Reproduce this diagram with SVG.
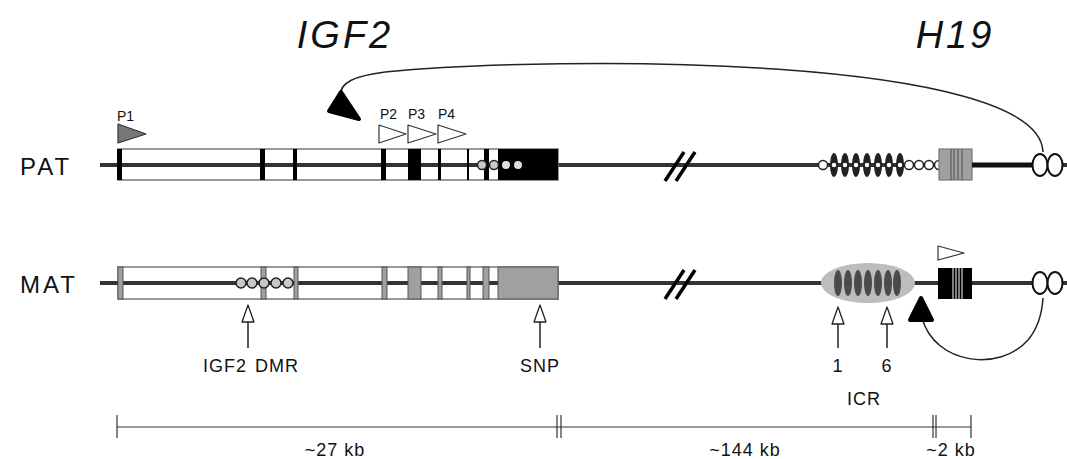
<svg xmlns="http://www.w3.org/2000/svg" width="1067" height="459" viewBox="0 0 1067 459">
  <style>
    .txt { font-family: "Liberation Sans", Arial, sans-serif; fill: #111; }
    .title { font-size: 38px; font-style: italic; letter-spacing: 3px; }
    .allele { font-size: 24px; letter-spacing: 3px; }
    .prom { font-size: 14px; }
    .lbl { font-size: 18px; letter-spacing: 1px; }
    .chrom { stroke: #333; stroke-width: 4; fill: none; }
    .gene { fill: #fff; stroke: #777; stroke-width: 1.5; }
    .exonB { fill: #000; }
    .exonG { fill: #a0a0a0; stroke: #555; stroke-width: 1; }
    .cpgG { fill: #c8c8c8; stroke: #222; stroke-width: 1.5; }
    .cpgW { fill: #fff; stroke: #222; stroke-width: 1.5; }
    .enh { fill: #fff; stroke: #111; stroke-width: 2; }
    .brk { stroke: #000; stroke-width: 3.5; }
    .scale { stroke: #333; stroke-width: 1.2; fill: none; }
    .conn { stroke: #222; stroke-width: 1.5; fill: none; }
    .openArrow { fill: #fff; stroke: #222; stroke-width: 1.3; stroke-linejoin: round; }
  </style>

  <!-- gene titles -->
  <text class="txt title" x="345" y="48" text-anchor="middle">IGF2</text>
  <text class="txt title" x="955" y="48" text-anchor="middle">H19</text>

  <!-- paternal allele -->
  <g id="pat">
    <text class="txt allele" x="20" y="175">PAT</text>
    <line class="chrom" x1="100" y1="165" x2="1067" y2="165"/>
    <rect class="gene" x="118" y="149" width="440" height="31"/>
    <line class="chrom" x1="100" y1="165" x2="558" y2="165"/>
    <!-- IGF2 exons -->
    <rect class="exonB" x="117" y="149" width="5" height="31"/>
    <rect class="exonB" x="260" y="149" width="5" height="31"/>
    <rect class="exonB" x="293" y="149" width="4" height="31"/>
    <rect class="exonB" x="381" y="149" width="5" height="31"/>
    <rect class="exonB" x="408" y="149" width="13" height="31"/>
    <rect class="exonB" x="438" y="149" width="3" height="31"/>
    <rect class="exonB" x="467" y="149" width="2" height="31"/>
    <rect class="exonB" x="484" y="149" width="5" height="31"/>
    <rect class="exonB" x="498" y="149" width="60" height="31"/>
    <circle class="cpgG" cx="482" cy="165" r="4.5"/>
    <circle class="cpgG" cx="494" cy="165" r="4.5"/>
    <circle fill="#ddd" cx="506" cy="165" r="4"/>
    <circle fill="#ddd" cx="518" cy="165" r="4"/>
    <!-- promoters -->
    <text class="txt prom" x="117" y="121">P1</text>
    <polygon points="118,124 146,134 118,143" fill="#777" stroke="#333" stroke-width="1.2" stroke-linejoin="round"/>
    <text class="txt prom" x="380" y="119">P2</text>
    <text class="txt prom" x="408" y="119">P3</text>
    <text class="txt prom" x="438" y="119">P4</text>
    <polygon points="379,125 406,134 379,143" fill="#fff" stroke="#333" stroke-width="1.2" stroke-linejoin="round"/>
    <polygon points="408,125 436,134 408,143" fill="#fff" stroke="#333" stroke-width="1.2" stroke-linejoin="round"/>
    <polygon points="438,125 466,134 438,143" fill="#fff" stroke="#333" stroke-width="1.2" stroke-linejoin="round"/>
    <!-- chromosome break -->
    <line class="brk" x1="665" y1="181" x2="684" y2="152"/>
    <line class="brk" x1="676" y1="181" x2="695" y2="152"/>
    <!-- ICR, methylated -->
    <g fill="#222">
      <ellipse cx="834" cy="165" rx="4" ry="12"/>
      <ellipse cx="845" cy="165" rx="4" ry="12"/>
      <ellipse cx="856" cy="165" rx="4" ry="12"/>
      <ellipse cx="867" cy="165" rx="4" ry="12"/>
      <ellipse cx="878" cy="165" rx="4" ry="12"/>
      <ellipse cx="889" cy="165" rx="4" ry="12"/>
      <ellipse cx="900" cy="165" rx="4" ry="12"/>
    </g>
    <g>
      <circle class="cpgW" cx="823" cy="165" r="4.5"/>
      <circle class="cpgW" cx="834" cy="165" r="3"/>
      <circle class="cpgW" cx="845" cy="165" r="3"/>
      <circle class="cpgW" cx="856" cy="165" r="3"/>
      <circle class="cpgW" cx="867" cy="165" r="3"/>
      <circle class="cpgW" cx="878" cy="165" r="3"/>
      <circle class="cpgW" cx="889" cy="165" r="3"/>
      <circle class="cpgW" cx="900" cy="165" r="3"/>
      <circle class="cpgW" cx="909" cy="165" r="4.5"/>
      <circle class="cpgW" cx="919" cy="165" r="4.5"/>
      <circle class="cpgW" cx="929" cy="165" r="4.5"/>
      <circle class="cpgW" cx="939" cy="165" r="4.5"/>
    </g>
    <!-- H19 silenced -->
    <rect x="939" y="149" width="33" height="31" fill="#a0a0a0" stroke="#777" stroke-width="1.2"/>
    <g stroke="#6a6a6a" stroke-width="1.5">
      <line x1="951" y1="149" x2="951" y2="180"/>
      <line x1="954" y1="149" x2="954" y2="180"/>
      <line x1="958" y1="149" x2="958" y2="180"/>
      <line x1="962" y1="149" x2="962" y2="180"/>
    </g>
    <line x1="972" y1="165" x2="1032" y2="165" stroke="#111" stroke-width="5"/>
    <!-- enhancers -->
    <ellipse class="enh" cx="1040" cy="165" rx="7.5" ry="11"/>
    <ellipse class="enh" cx="1055" cy="165" rx="7.5" ry="11"/>
  </g>

  <!-- maternal allele -->
  <g id="mat">
    <text class="txt allele" x="20" y="293">MAT</text>
    <line class="chrom" x1="100" y1="283" x2="1067" y2="283"/>
    <rect class="gene" x="118" y="267" width="440" height="32"/>
    <line class="chrom" x1="100" y1="283" x2="558" y2="283"/>
    <!-- IGF2 exons (silent) -->
    <rect class="exonG" x="118" y="267" width="5" height="32"/>
    <rect class="exonG" x="261" y="267" width="5" height="32"/>
    <rect class="exonG" x="294" y="267" width="4" height="32"/>
    <rect class="exonG" x="382" y="267" width="5" height="32"/>
    <rect class="exonG" x="408" y="267" width="13" height="32"/>
    <rect class="exonG" x="438" y="267" width="4" height="32"/>
    <rect class="exonG" x="467" y="267" width="3" height="32"/>
    <rect class="exonG" x="483" y="267" width="6" height="32"/>
    <rect class="exonG" x="498" y="267" width="60" height="32"/>
    <!-- IGF2 DMR -->
    <circle class="cpgG" cx="241" cy="283" r="5"/>
    <circle class="cpgG" cx="252" cy="283" r="5"/>
    <circle class="cpgG" cx="264" cy="283" r="5"/>
    <circle class="cpgG" cx="276" cy="283" r="5"/>
    <circle class="cpgG" cx="288" cy="283" r="5"/>
    <!-- chromosome break -->
    <line class="brk" x1="665" y1="299" x2="684" y2="270"/>
    <line class="brk" x1="676" y1="299" x2="695" y2="270"/>
    <!-- ICR bound by CTCF -->
    <ellipse cx="868" cy="283" rx="47" ry="20" fill="#bdbdbd"/>
    <g fill="#4a4a4a">
      <ellipse cx="838" cy="283" rx="4" ry="13"/>
      <ellipse cx="848" cy="283" rx="4" ry="13"/>
      <ellipse cx="858" cy="283" rx="4" ry="13"/>
      <ellipse cx="868" cy="283" rx="4" ry="13"/>
      <ellipse cx="878" cy="283" rx="4" ry="13"/>
      <ellipse cx="888" cy="283" rx="4" ry="13"/>
      <ellipse cx="897" cy="283" rx="4" ry="13"/>
    </g>
    <!-- H19 active -->
    <polygon points="938,246 964,253 938,260" fill="#fff" stroke="#333" stroke-width="1.2" stroke-linejoin="round"/>
    <rect x="938" y="268" width="34" height="31" fill="#000"/>
    <g stroke="#fff" stroke-width="1">
      <line x1="953" y1="268" x2="953" y2="299"/>
      <line x1="956" y1="268" x2="956" y2="299"/>
      <line x1="959" y1="268" x2="959" y2="299"/>
      <line x1="962" y1="268" x2="962" y2="299"/>
    </g>
    <!-- enhancers -->
    <ellipse class="enh" cx="1040" cy="283" rx="7.5" ry="11"/>
    <ellipse class="enh" cx="1055" cy="283" rx="7.5" ry="11"/>
  </g>

  <!-- enhancer-promoter loops -->
  <g id="connectors">
    <path class="conn" d="M1043,152 C1040,55 560,55 385,72 C355,76 340,82 340,96"/>
    <polygon points="341,92 359,119 329,111" fill="#000" stroke="#000" stroke-width="4" stroke-linejoin="round"/>
    <path class="conn" d="M922,318 C935,365 1000,372 1028,340 C1038,328 1042,314 1043,298"/>
    <polygon points="921,298 932,320 910,320" fill="#000" stroke="#000" stroke-width="4" stroke-linejoin="round"/>
  </g>

  <!-- site markers -->
  <g id="markers">
    <g id="m-dmr">
      <line class="conn" x1="248" y1="320" x2="248" y2="348" stroke-width="1.3"/>
      <polygon class="openArrow" points="248,305 254,322 242,322"/>
      <text class="txt lbl" x="251" y="372" text-anchor="middle" word-spacing="2">IGF2 DMR</text>
    </g>
    <g id="m-snp">
      <line class="conn" x1="540" y1="320" x2="540" y2="348" stroke-width="1.3"/>
      <polygon class="openArrow" points="540,305 546,322 534,322"/>
      <text class="txt lbl" x="540" y="372" text-anchor="middle">SNP</text>
    </g>
    <g id="m-ctcf1">
      <line class="conn" x1="838" y1="322" x2="838" y2="348" stroke-width="1.3"/>
      <polygon class="openArrow" points="838,307 844,324 832,324"/>
      <text class="txt lbl" x="838" y="372" text-anchor="middle">1</text>
    </g>
    <g id="m-ctcf6">
      <line class="conn" x1="887" y1="322" x2="887" y2="348" stroke-width="1.3"/>
      <polygon class="openArrow" points="887,307 893,324 881,324"/>
      <text class="txt lbl" x="887" y="372" text-anchor="middle">6</text>
    </g>
    <text class="txt lbl" x="864" y="405" text-anchor="middle">ICR</text>
  </g>

  <!-- distance scale -->
  <g id="scale">
    <line class="scale" x1="117" y1="427" x2="971" y2="427"/>
    <line class="scale" x1="117" y1="415" x2="117" y2="438"/>
    <line class="scale" x1="557" y1="415" x2="557" y2="438"/>
    <line class="scale" x1="561" y1="415" x2="561" y2="438"/>
    <line class="scale" x1="933" y1="415" x2="933" y2="438"/>
    <line class="scale" x1="936" y1="415" x2="936" y2="438"/>
    <line class="scale" x1="971" y1="415" x2="971" y2="438"/>
    <text class="txt lbl" x="335" y="456" text-anchor="middle">~27 kb</text>
    <text class="txt lbl" x="745" y="456" text-anchor="middle">~144 kb</text>
    <text class="txt lbl" x="951" y="456" text-anchor="middle">~2 kb</text>
  </g>
</svg>
